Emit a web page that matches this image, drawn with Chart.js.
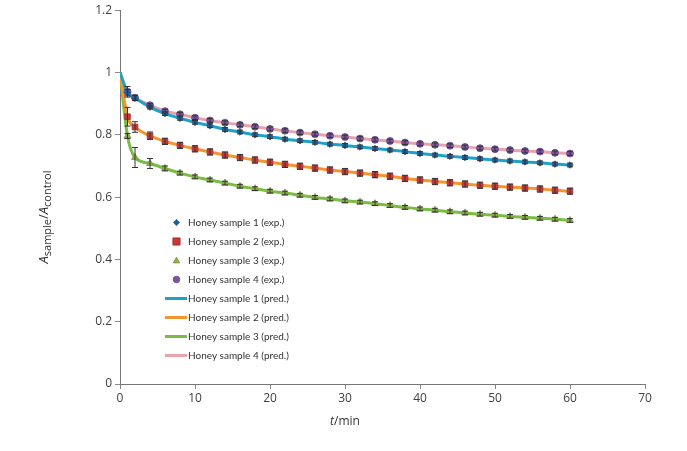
<!DOCTYPE html>
<html>
<head>
<meta charset="utf-8">
<script src="https://cdn.jsdelivr.net/npm/chart.js@4/dist/chart.umd.min.js"></script>
<style>
html,body{margin:0;padding:0;background:#fff;}
#wrap{position:relative;width:687px;height:451px;}
</style>
</head>
<body>
<div id="wrap"><canvas id="c" width="687" height="451"></canvas></div>
<script>
// ---- data ----
const times = [1,2,4,6,8,10,12,14,16,18,20,22,24,26,28,30,32,34,36,38,40,42,44,46,48,50,52,54,56,58,60];
const startValue = 1.0; // value at t = 0 (all samples)

const sample1 = [0.935,0.918,0.889,0.868,0.853,0.840,0.829,0.817,0.809,0.800,0.794,0.786,0.781,0.776,0.770,0.766,0.761,0.756,0.751,0.746,0.740,0.735,0.731,0.727,0.723,0.719,0.716,0.713,0.710,0.706,0.703];
const sample2 = [0.858,0.825,0.797,0.779,0.766,0.755,0.745,0.735,0.727,0.719,0.712,0.705,0.699,0.693,0.687,0.682,0.677,0.672,0.667,0.660,0.655,0.650,0.646,0.642,0.638,0.635,0.632,0.629,0.626,0.622,0.619];
const sample3 = [0.796,0.727,0.708,0.692,0.677,0.665,0.655,0.645,0.635,0.627,0.619,0.613,0.606,0.599,0.594,0.588,0.584,0.579,0.573,0.567,0.562,0.558,0.553,0.549,0.545,0.542,0.538,0.535,0.532,0.529,0.525];
const sample4 = [0.938,0.919,0.895,0.876,0.866,0.855,0.846,0.839,0.832,0.826,0.819,0.813,0.807,0.802,0.797,0.793,0.788,0.784,0.780,0.775,0.771,0.768,0.765,0.761,0.757,0.754,0.751,0.748,0.746,0.742,0.740];

const err1 = [0.010,0.008,0.006,0.006,0.006,0.006,0.006,0.006,0.006,0.006,0.006,0.006,0.006,0.006,0.006,0.006,0.006,0.006,0.006,0.006,0.006,0.006,0.006,0.006,0.006,0.006,0.006,0.006,0.006,0.006,0.006];
const err2 = [0.030,0.017,0.012,0.010,0.010,0.010,0.010,0.010,0.010,0.010,0.010,0.010,0.010,0.010,0.010,0.010,0.010,0.010,0.010,0.010,0.010,0.010,0.010,0.010,0.010,0.010,0.010,0.010,0.010,0.010,0.010];
const err3 = [0.008,0.032,0.016,0.008,0.006,0.006,0.006,0.006,0.006,0.006,0.006,0.006,0.006,0.006,0.006,0.006,0.006,0.006,0.006,0.006,0.006,0.006,0.006,0.006,0.006,0.006,0.006,0.006,0.006,0.006,0.006];
const err4 = [0.017,0.008,0.006,0.006,0.006,0.006,0.006,0.006,0.006,0.006,0.006,0.006,0.006,0.006,0.006,0.006,0.006,0.006,0.006,0.006,0.006,0.006,0.006,0.006,0.006,0.006,0.006,0.006,0.006,0.006,0.006];

const expLabels  = ['Honey sample 1 (exp.)','Honey sample 2 (exp.)','Honey sample 3 (exp.)','Honey sample 4 (exp.)'];
const predLabels = ['Honey sample 1 (pred.)','Honey sample 2 (pred.)','Honey sample 3 (pred.)','Honey sample 4 (pred.)'];

const xTicks = [0,10,20,30,40,50,60,70];
const yTicks = [0,0.2,0.4,0.6,0.8,1,1.2];

// ---- styles ----
const series = [sample1, sample2, sample3, sample4];
const errs = [err1, err2, err3, err4];
const markerColors = ['#1f5f99','#c8373a','#8fae4a','#7b55a0'];
const markerBorders = ['#1f5f99','#9a2d2d','#7a963c','#6a4790'];
const markerStyles = ['rectRot','rect','triangle','circle'];
const markerRadius = [3.3,4,4,3.5];
const legendRadius = [2.6,3.6,3.4,3.3];
const lineColors = ['#1ea3c6','#f3962f','#79bd45','#e9a3ab'];

const toPts = (vals) => vals.map((v,i)=>({x:times[i], y:v}));
const toPredPts = (vals) => [{x:0, y:startValue}].concat(toPts(vals));

const datasets = [];
series.forEach((s,i)=>{
  datasets.push({
    label: expLabels[i], data: toPts(s), showLine:false,
    pointStyle: markerStyles[i], pointRadius: markerRadius[i],
    backgroundColor: markerColors[i], borderColor: markerBorders[i], borderWidth: 0.8,
    order: 0, errors: errs[i]
  });
});
series.forEach((s,i)=>{
  datasets.push({
    label: predLabels[i], data: toPredPts(s), showLine:true,
    pointRadius:0, borderColor: lineColors[i], backgroundColor: lineColors[i],
    borderWidth: 3, cubicInterpolationMode:'monotone', order: 1
  });
});

const errorBars = {
  id:'errorBars',
  afterDatasetsDraw(chart){
    const ctx = chart.ctx, xs = chart.scales.x, ys = chart.scales.y;
    ctx.save();
    ctx.strokeStyle = '#333';
    ctx.lineWidth = 1;
    chart.data.datasets.forEach(ds=>{
      if(!ds.errors) return;
      ds.data.forEach((p,i)=>{
        const e = ds.errors[i];
        const px = xs.getPixelForValue(p.x);
        const y1 = ys.getPixelForValue(p.y + e), y2 = ys.getPixelForValue(p.y - e);
        ctx.beginPath();
        ctx.moveTo(px, y1); ctx.lineTo(px, y2);
        ctx.moveTo(px-3, y1); ctx.lineTo(px+3, y1);
        ctx.moveTo(px-3, y2); ctx.lineTo(px+3, y2);
        ctx.stroke();
      });
    });
    ctx.restore();
  }
};

function drawMarker(ctx, style, x, y, r){
  if(style==='circle'){ ctx.arc(x,y,r,0,Math.PI*2); }
  else if(style==='rect'){ ctx.rect(x-r,y-r,2*r,2*r); }
  else if(style==='rectRot'){ ctx.moveTo(x,y-r*1.2); ctx.lineTo(x+r*1.2,y); ctx.lineTo(x,y+r*1.2); ctx.lineTo(x-r*1.2,y); ctx.closePath(); }
  else if(style==='triangle'){ ctx.moveTo(x,y-r); ctx.lineTo(x+r*0.95,y+r*0.7); ctx.lineTo(x-r*0.95,y+r*0.7); ctx.closePath(); }
}

const decorations = {
  id:'decorations',
  afterDraw(chart){
    const ctx = chart.ctx;
    ctx.save();
    // legend
    const lx = 176.5, ly0 = 222.5, dy = 19;
    ctx.font = '10px Lato, "Open Sans", sans-serif';
    ctx.textBaseline = 'middle';
    for(let i=0;i<4;i++){
      const y = ly0 + i*dy;
      ctx.fillStyle = markerColors[i];
      ctx.strokeStyle = markerBorders[i];
      ctx.lineWidth = 0.8;
      ctx.beginPath();
      drawMarker(ctx, markerStyles[i], lx, y, legendRadius[i]);
      ctx.fill(); ctx.stroke();
      ctx.fillStyle = '#333';
      ctx.fillText(expLabels[i], 188, y);
    }
    for(let i=0;i<4;i++){
      const y = ly0 + (i+4)*dy;
      ctx.strokeStyle = lineColors[i];
      ctx.lineWidth = 3;
      ctx.beginPath(); ctx.moveTo(165, y); ctx.lineTo(187, y); ctx.stroke();
      ctx.fillStyle = '#333';
      ctx.fillText(predLabels[i], 188, y);
    }
    // x axis title
    ctx.fillStyle = '#333';
    ctx.textBaseline = 'alphabetic';
    const f = '"Open Sans", sans-serif';
    ctx.font = 'italic 12px ' + f;
    const wT = ctx.measureText('t').width;
    ctx.font = '12px ' + f;
    const wM = ctx.measureText('/min').width;
    let x0 = 345 - (wT + wM)/2;
    ctx.font = 'italic 12px ' + f; ctx.fillText('t', x0, 425);
    ctx.font = '12px ' + f; ctx.fillText('/min', x0 + wT, 425);
    // y axis title (rotated)
    ctx.translate(48, 217);
    ctx.rotate(-Math.PI/2);
    const parts = [
      {t:'A', font:'italic 13px '+f, dy:0},
      {t:'sample', font:'11px '+f, dy:3},
      {t:'/', font:'13px '+f, dy:0},
      {t:'A', font:'italic 13px '+f, dy:0},
      {t:'control', font:'11px '+f, dy:3}
    ];
    let tw = 0;
    parts.forEach(p=>{ctx.font=p.font; p.w = ctx.measureText(p.t).width; tw += p.w;});
    let cx = -tw/2;
    parts.forEach(p=>{ctx.font=p.font; ctx.fillText(p.t, cx, p.dy); cx += p.w;});
    ctx.restore();
  }
};

const tickFont = {family:'"Open Sans", sans-serif', size:12};
new Chart(document.getElementById('c'), {
  type:'scatter',
  data:{datasets},
  options:{
    responsive:false, animation:false,
    layout:{padding:{left:0, right:42, top:6, bottom:0}},
    plugins:{legend:{display:false}, tooltip:{enabled:false}},
    scales:{
      x:{type:'linear', min:0, max:70,
        afterBuildTicks: s => { s.ticks = xTicks.map(v=>({value:v})); },
        ticks:{font:tickFont, color:'#404040', padding:2, maxRotation:0},
        grid:{display:true, drawOnChartArea:false, drawTicks:true, tickLength:5, color:'#888'},
        border:{display:true, color:'#777', width:1},
        afterFit: s => { s.height = 67; }
      },
      y:{type:'linear', min:0, max:1.2,
        afterBuildTicks: s => { s.ticks = yTicks.map(v=>({value:v})); },
        ticks:{font:tickFont, color:'#404040', padding:3, callback:v=>String(Number(v.toFixed(1)))},
        grid:{display:true, drawOnChartArea:false, drawTicks:true, tickLength:5, color:'#888'},
        border:{display:true, color:'#777', width:1},
        afterFit: s => { s.width = 120; }
      }
    }
  },
  plugins:[errorBars, decorations]
});
</script>
</body>
</html>
